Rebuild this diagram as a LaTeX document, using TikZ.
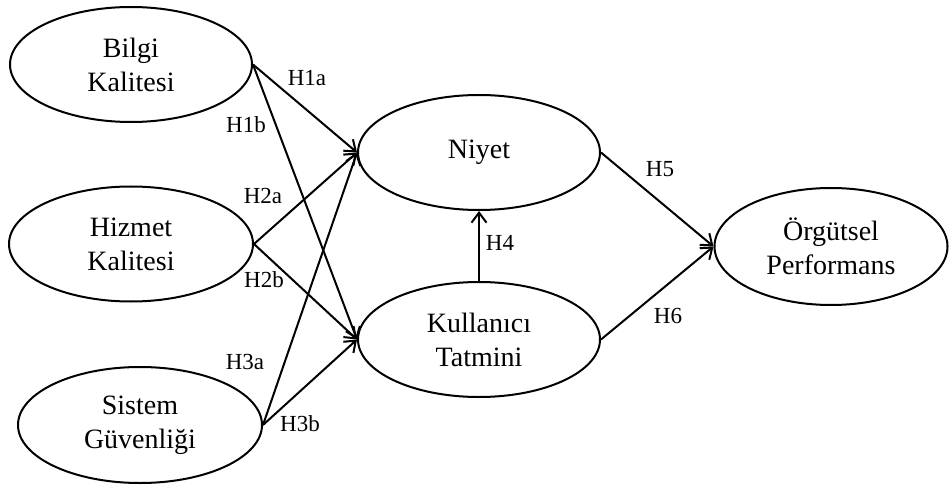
\documentclass[tikz,border=0pt]{standalone}
\usepackage{fontspec}
\setmainfont{Liberation Serif}
\usetikzlibrary{shapes.geometric,arrows.meta}
\begin{document}
\begin{tikzpicture}[x=1pt,y=-1pt,
  construct/.style={ellipse,draw,line width=2pt,inner sep=0pt,
    minimum width=242pt,minimum height=115pt,align=center,
    font=\fontsize{28}{34}\selectfont},
  path/.style={line width=2pt,-{Straight Barb[length=10pt,width=15pt,line width=2pt]}},
  hyp/.style={font=\fontsize{23}{27}\selectfont,inner sep=0pt}]
\useasboundingbox (0,0) rectangle (950,489);

% latent constructs
\node[construct] (bilgi)  at (131,64.5) {Bilgi\\Kalitesi};
\node[construct,minimum width=244pt] (hizmet) at (131,244) {Hizmet\\Kalitesi};
\node[construct,minimum width=244pt,minimum height=116pt] (sistem) at (140,425) {Sistem\\Güvenliği};
\node[construct] (niyet)  at (479,152.5) {Niyet};
\node[construct] (kt)     at (479,339.5) {Kullanıcı\\Tatmini};
\node[construct,minimum width=233pt,minimum height=117pt] (op) at (831,246.5) {Örgütsel\\Performans};

% hypothesised paths
\draw[path] (bilgi.east)  -- (niyet.west);
\draw[path] (bilgi.east)  -- (kt.west);
\draw[path] (hizmet.east) -- (niyet.west);
\draw[path] (hizmet.east) -- (kt.west);
\draw[path] (sistem.east) -- (niyet.west);
\draw[path] (sistem.east) -- (kt.west);
\draw[path] (kt.north)    -- (niyet.south);
\draw[path] (niyet.east)  -- (op.west);
\draw[path] (kt.east)     -- (op.west);

% path labels
\node[hyp] (h1a) at (307,78)  {H1a};
\node[hyp] (h1b) at (246,125) {H1b};
\node[hyp] (h2a) at (263,196) {H2a};
\node[hyp] (h2b) at (264,280) {H2b};
\node[hyp] (h3a) at (245,362) {H3a};
\node[hyp] (h3b) at (300,424) {H3b};
\node[hyp] (h4)  at (500,243) {H4};
\node[hyp] (h5)  at (660,169) {H5};
\node[hyp] (h6)  at (668,316) {H6};
\end{tikzpicture}
\end{document}
